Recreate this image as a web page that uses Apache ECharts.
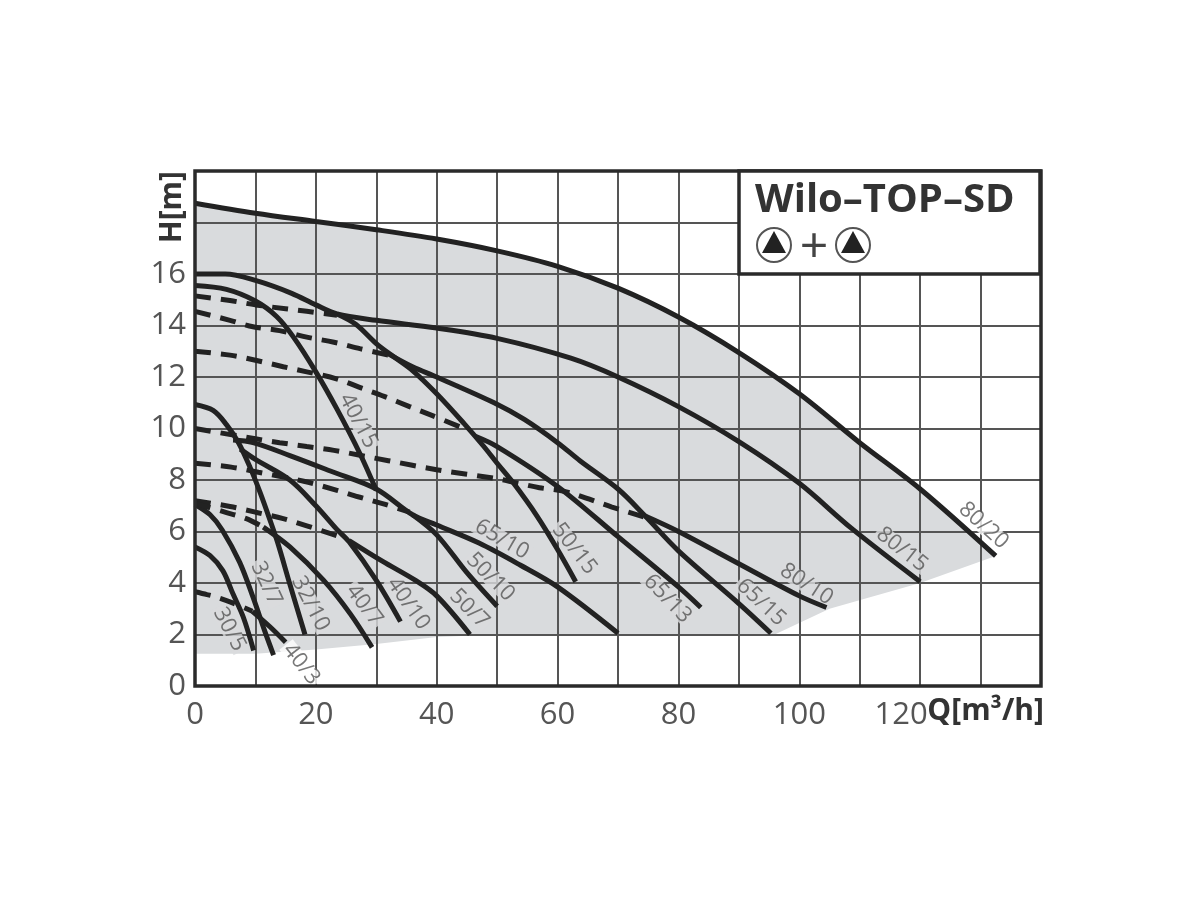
<!DOCTYPE html>
<html><head><meta charset="utf-8">
<style>html,body{margin:0;padding:0;background:#fff}#c{width:1200px;height:900px}</style>
<script src="https://cdn.jsdelivr.net/npm/echarts@6/dist/echarts.min.js"></script>
</head><body><div id="c"></div>
<script>
const xTickLabels = {0:'0',20:'20',40:'40',60:'60',80:'80',100:'100',120:'{shift|120}'};
const yTickLabels = {0:'0',2:'2',4:'4',6:'6',8:'8',10:'10',12:'12',14:'14',16:'16'};

// solid pump curves [Q, H]
const c8020 = [[0,18.75],[10,18.36],[20,18.04],[30,17.72],[40,17.36],[50,16.9],[60,16.3],[70,15.45],[80,14.33],[90,12.95],[100,11.35],[110,9.45],[120,7.65],[132.5,5.05]];
const c8015 = [[0,16],[5,16],[10,15.75],[16,15.25],[20,14.8],[23.5,14.45],[30,14.2],[40,13.9],[50,13.5],[62.2,12.73],[70,12],[80,10.85],[90,9.49],[100,7.87],[108.6,6.13],[120,4.05]];
const c4015 = [[0,15.55],[5.2,15.4],[10,14.95],[13.5,14.35],[16.3,13.55],[20,12.2],[23.5,10.75],[27.3,9.02],[30,7.6]];
const c5015 = [[23.5,14.45],[26.6,14.05],[30,13.3],[32.5,12.85],[36,12.25],[40,11.35],[44.5,10.2],[47.8,9.3],[50,8.65],[52.7,7.88],[56.6,6.6],[60,5.3],[63,4.05]];
const c6515 = [[32,12.9],[36,12.4],[40,12],[49.5,11],[54.5,10.35],[60,9.45],[63.7,8.75],[70,7.65],[74.5,6.6],[80,5.25],[90,3.2],[95.3,2.05]];
const c6513 = [[46.4,9.7],[50,9.3],[60,7.75],[70,5.8],[80,3.85],[83.7,3.05]];
const c8010 = [[74.5,6.6],[80,6],[90,4.75],[100,3.5],[104.5,3.05]];
const c3210 = [[0,10.93],[3,10.7],[5.2,10.15],[7.2,9.45],[9.1,8.5],[10.8,7.5],[12.4,6.45],[13.7,5.55],[15.7,3.95],[18.2,2]];
const c6510 = [[6.3,9.55],[9.6,9.45],[15.7,8.95],[22.4,8.35],[30,7.65],[36,6.65],[40,6.25],[47,5.55],[53.8,4.7],[60,3.85],[70,2.05]];
const c5010 = [[36,6.65],[40,5.87],[45,4.4],[50,3.1]];
const c4010 = [[7.5,9.2],[10,8.8],[15.7,8],[20,7],[23.4,6.1],[25.5,5.6],[30,4.1],[34,2.5]];
const c507 = [[25.5,5.65],[31,4.85],[36.5,4.1],[40,3.5],[45.5,2]];
const c407 = [[11.3,6.17],[15.7,5.4],[21.3,4.1],[25.7,2.8],[29.3,1.5]];
const c327 = [[0,7.05],[2.5,6.65],[4.5,6.06],[7.4,4.8],[9.6,3.45],[11.5,2.16],[13,1.2]];
const c305 = [[0,5.4],[2.5,5.06],[4.6,4.48],[6.3,3.57],[8,2.67],[9.7,1.38]];
const c403 = [[9.5,2.9],[12.4,2.3],[15,1.7]];

// dashed stage curves [Q, H]
const d1 = [[0,15.15],[5.8,14.97],[10,14.8],[15,14.65],[18.5,14.55],[23.5,14.4]];
const d2 = [[0,14.55],[5.8,14.2],[9.6,13.95],[14,13.8],[18.5,13.55],[23,13.35],[27.3,13.1],[32,12.85]];
const d3 = [[0,13],[5.8,12.85],[10,12.65],[14.6,12.4],[18.5,12.2],[23.4,11.93],[27.8,11.55],[31.3,11.25],[35.5,10.85],[39.3,10.5],[44,10.05]];
const d4 = [[0,10],[10,9.6],[14,9.45],[18.5,9.3],[23,9.15],[27.5,8.95],[32,8.75],[40,8.4],[50,8.05],[53,7.9],[57,7.7],[61.3,7.55],[69,6.95],[74.5,6.55]];
const d5 = [[0,8.65],[6,8.5],[10.5,8.3],[18,7.95],[23.5,7.6],[27,7.35],[31.5,7.05],[35.5,6.75]];
const d6 = [[0,7.2],[5.8,6.97],[10,6.75],[14.6,6.5],[18.5,6.22],[25,5.72]];
const d7 = [[0,7.1],[4.7,6.77],[8.5,6.5],[11.3,6.17]];
const d8 = [[0,3.66],[2,3.55],[3.6,3.45],[6,3.25],[9.5,2.9]];

const solidCurves = [c8020,c8015,c4015,c5015,c6515,c6513,c8010,c3210,c6510,c5010,c4010,c507,c407,c327,c305,c403];
const dashedCurves = [d1,d2,d3,d4,d5,d6,d7,d8];

// operating field outline
const fieldLower = [[132.5,5.05],[120,4],[105,3],[95.5,1.95],[45,1.95],[40,1.9],[30,1.63],[20,1.42],[10,1.25],[0,1.25]];
const fieldOutline = c8020.concat(fieldLower);

// curve labels [Q, H, text, angle, background]
const curveLabels = [
 [130.5,6.23,'80/20',-42,'#ffffff'],
 [117,5.3,'80/15',-38,'#d9dbdd'],
 [101.2,3.95,'80/10',-33,'#d9dbdd'],
 [93.7,3.25,'65/15',-43,'#d9dbdd'],
 [78.2,3.39,'65/13',-46,'#d9dbdd'],
 [62.8,5.33,'50/15',-52,'#d9dbdd'],
 [50.8,5.69,'65/10',-30,'#d9dbdd'],
 [48.9,4.23,'50/10',-45,'#d9dbdd'],
 [45.4,3,'50/7',-45,'#d9dbdd'],
 [35.3,3.2,'40/10',-55,'#d9dbdd'],
 [28,3.14,'40/7',-53,'#d9dbdd'],
 [19.1,3.2,'32/10',-63,'#d9dbdd'],
 [11.8,3.98,'32/7',-65,'#d9dbdd'],
 [5.7,2.2,'30/5',-62,'#d9dbdd'],
 [17.6,0.85,'40/3',-52,'#ffffff'],
 [27,10.3,'40/15',-62,'#d9dbdd']
];

const FONT = '"Open Sans", sans-serif';
const chart = echarts.init(document.getElementById('c'), null, {renderer:'canvas'});
const lineBase = {type:'line', symbol:'none', smooth:0.33, silent:true, z:5, animation:false};
const series = [
 {type:'custom', silent:true, z:1, animation:false, data:fieldOutline, encode:{x:0,y:1},
  renderItem:(params,api)=>{
    if(params.dataIndex!==0) return;
    return {type:'polygon', shape:{points:fieldOutline.map(p=>api.coord(p))}, style:{fill:'#d9dbdd'}};
  }},
 {type:'scatter', silent:true, z:4, animation:false, symbolSize:0,
  data:curveLabels.map(l=>({value:[l[0],l[1]],
    label:{show:true, position:'inside', formatter:l[2], rotate:l[3], color:'#555', fontFamily:FONT, fontSize:22,
      lineHeight:17, backgroundColor:l[4], padding:[0,2]}}))}
];
solidCurves.forEach(d=>series.push(Object.assign({},lineBase,{data:d,lineStyle:{color:'#222',width:5}})));
dashedCurves.forEach(d=>series.push(Object.assign({},lineBase,{data:d,lineStyle:{color:'#222',width:5,type:[16,10]}})));

chart.setOption({
 backgroundColor:'#fff',
 animation:false,
 grid:{show:true,left:195,right:159,top:171,bottom:214,borderColor:'#2a2a2a',borderWidth:3.5,z:6,backgroundColor:'transparent'},
 xAxis:{type:'value',min:0,max:140,interval:10,z:2,
  name:'Q[m³/h]',nameLocation:'end',nameGap:3,nameMoveOverlap:false,
  nameTextStyle:{align:'right',verticalAlign:'top',padding:[10,0,0,0],fontFamily:FONT,fontWeight:'bold',fontSize:30,color:'#333'},
  axisLine:{show:false},axisTick:{show:false},
  splitLine:{show:true,lineStyle:{color:'#555',width:2}},
  axisLabel:{margin:14,color:'#555',fontFamily:FONT,fontSize:31,showMinLabel:true,showMaxLabel:true,
   rich:{shift:{padding:[0,38,0,0],color:'#555',fontFamily:FONT,fontSize:31}},
   formatter:v=>xTickLabels[v]||''}},
 yAxis:{type:'value',min:0,max:20,interval:2,z:2,
  name:'H[m]',nameLocation:'end',nameGap:0,nameRotate:90,
  nameTextStyle:{align:'right',verticalAlign:'bottom',padding:[0,0,8,0],fontFamily:FONT,fontWeight:'bold',fontSize:30,color:'#333'},
  axisLine:{show:false},axisTick:{show:false},
  splitLine:{show:true,lineStyle:{color:'#555',width:2}},
  axisLabel:{margin:9,color:'#555',fontFamily:FONT,fontSize:31,padding:[6,0,0,0],formatter:v=>yTickLabels[v]||''}},
 series:series,
 graphic:{elements:[
  {type:'rect',z:20,shape:{x:739,y:171,width:301,height:103},style:{fill:'#fff',stroke:'#2a2a2a',lineWidth:3.5}},
  {type:'text',z:21,x:755,y:201,style:{text:'Wilo–TOP–SD',font:'bold 40px "Open Sans", sans-serif',fill:'#333',verticalAlign:'middle'}},
  {type:'circle',z:21,shape:{cx:774,cy:245,r:17},style:{fill:'#fff',stroke:'#555',lineWidth:2}},
  {type:'polygon',z:22,shape:{points:[[774,231],[762,253],[786,253]]},style:{fill:'#222'}},
  {type:'text',z:21,x:814,y:249,style:{text:'+',font:'50px "Open Sans", sans-serif',fill:'#444',align:'center',verticalAlign:'middle'}},
  {type:'circle',z:21,shape:{cx:853,cy:245,r:17},style:{fill:'#fff',stroke:'#555',lineWidth:2}},
  {type:'polygon',z:22,shape:{points:[[853,231],[841,253],[865,253]]},style:{fill:'#222'}}
 ]}
});
</script></body></html>
